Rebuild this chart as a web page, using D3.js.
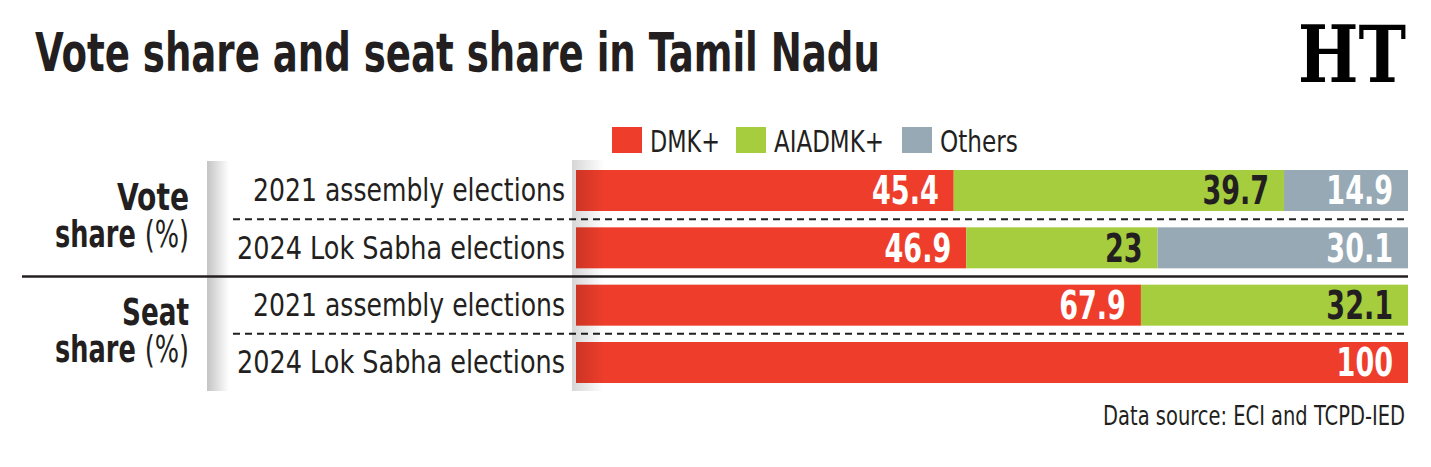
<!DOCTYPE html>
<html>
<head>
<meta charset="utf-8">
<script src="https://cdn.jsdelivr.net/npm/d3@7"></script>
<style>
  body { margin: 0; background: #fff; }
  svg { display: block; }
  text { font-family: "Liberation Sans Narrow", "DejaVu Sans Condensed", "Roboto", sans-serif; fill: #231f20; }
</style>
</head>
<body>
<div id="chart"></div>
<script>
// Vote share and seat share in Tamil Nadu - stacked 100% bars

const parties = ["DMK+", "AIADMK+", "Others"];
const rowLabels = ["2021 assembly elections", "2024 Lok Sabha elections", "2021 assembly elections", "2024 Lok Sabha elections"];
const groups = ["Vote", "Seat"];
const dmkShare = [45.4, 46.9, 67.9, 100];
const aiadmkShare = [39.7, 23, 32.1, 0];
const othersShare = [14.9, 30.1, 0, 0];

const colors = { "DMK+": "#ee3d2b", "AIADMK+": "#a6cd3e", "Others": "#97a9b5" };
const labelColors = { "DMK+": "#fff", "AIADMK+": "#231f20", "Others": "#fff" };

// build rows for the stack
const data = rowLabels.map((label, i) => ({
  id: i,
  label: label,
  "DMK+": dmkShare[i],
  "AIADMK+": aiadmkShare[i],
  "Others": othersShare[i]
}));

const width = 1431, height = 467;

const svg = d3.select("#chart")
  .append("svg")
  .attr("width", width)
  .attr("height", height);

// helper: squeeze horizontally around its anchor x
function squeeze(sel, ax, k) {
  sel.attr("transform", `translate(${ax},0) scale(${k},1) translate(${-ax},0)`);
  return sel;
}

// helper: squeeze a text to a target width
function fit(sel, w) {
  const ax = +sel.attr("x");
  return squeeze(sel, ax, w / sel.node().getComputedTextLength());
}

// title
fit(svg.append("text")
  .attr("x", 35)
  .attr("y", 71)
  .style("font-size", "53px")
  .style("font-weight", "bold")
  .text("Vote share and seat share in Tamil Nadu"), 845);

// HT logo
fit(svg.append("text")
  .attr("x", 1298)
  .attr("y", 82)
  .style("font-family", "'DejaVu Serif', serif")
  .style("font-size", "78px")
  .style("font-weight", "bold")
  .style("fill", "#000")
  .text("HT"), 108);

// scales
const x = d3.scaleLinear().domain([0, 100]).range([576, 1408]);
const y = d3.scaleBand()
  .domain(data.map(d => d.id))
  .range([170, 383])
  .paddingInner(0.285)
  .paddingOuter(0);

// legend
const legendX = [612, 736, 902];
const legendW = [70, 110, 78];
const legend = svg.append("g").attr("class", "legend");
parties.forEach((p, i) => {
  legend.append("rect")
    .attr("x", legendX[i])
    .attr("y", 127)
    .attr("width", 30)
    .attr("height", 26)
    .attr("fill", colors[p]);
  fit(legend.append("text")
    .attr("x", legendX[i] + 38)
    .attr("y", 152)
    .style("font-size", "30px")
    .text(p), legendW[i]);
});

// gradients
const defs = svg.append("defs");
const g1 = defs.append("linearGradient").attr("id", "strip");
g1.append("stop").attr("offset", "0%").attr("stop-color", "#c4c4c4");
g1.append("stop").attr("offset", "100%").attr("stop-color", "#fff");
const g2 = defs.append("linearGradient").attr("id", "barShade");
g2.append("stop").attr("offset", "0%").attr("stop-color", "#000").attr("stop-opacity", 0.16);
g2.append("stop").attr("offset", "100%").attr("stop-color", "#000").attr("stop-opacity", 0);

// shadow strip left of row labels
svg.append("rect")
  .attr("x", 207)
  .attr("y", 161)
  .attr("width", 22)
  .attr("height", 230)
  .attr("fill", "url(#strip)");

// separators
const dashYs = [0, 2].map(i => (y(i) + y.bandwidth() + y(i + 1)) / 2);
svg.selectAll(".dash")
  .data(dashYs)
  .enter()
  .append("line")
  .attr("class", "dash")
  .attr("x1", 233)
  .attr("x2", x(100))
  .attr("y1", d => d)
  .attr("y2", d => d)
  .attr("stroke", "#231f20")
  .attr("stroke-width", 2)
  .attr("stroke-dasharray", "7,5");

const solidY = (y(1) + y.bandwidth() + y(2)) / 2;
svg.append("line")
  .attr("x1", 22)
  .attr("x2", x(100))
  .attr("y1", solidY)
  .attr("y2", solidY)
  .attr("stroke", "#231f20")
  .attr("stroke-width", 2.5);

// stacked bars
const series = d3.stack().keys(parties)(data);
const segs = series.flatMap(s => s.map(d => ({ key: s.key, v0: d[0], v1: d[1], id: d.data.id })))
  .filter(d => d.v1 > d.v0);

svg.selectAll(".bar")
  .data(segs)
  .enter()
  .append("rect")
  .attr("class", "bar")
  .attr("x", d => x(d.v0))
  .attr("y", d => y(d.id))
  .attr("width", d => x(d.v1) - x(d.v0))
  .attr("height", y.bandwidth())
  .attr("fill", d => colors[d.key]);

svg.selectAll(".val")
  .data(segs)
  .enter()
  .append("text")
  .attr("class", "val")
  .attr("x", d => x(d.v1) - 15)
  .attr("y", d => y(d.id) + y.bandwidth() / 2 + 14)
  .attr("text-anchor", "end")
  .style("font-size", "39px")
  .style("font-weight", "bold")
  .style("fill", d => labelColors[d.key])
  .text(d => d3.format("~g")(+(d.v1 - d.v0).toFixed(1)))
  .each(function(d) { squeeze(d3.select(this), x(d.v1) - 15, 0.77); });

// shade at the left edge of the bars
svg.append("rect")
  .attr("x", 572)
  .attr("y", 160)
  .attr("width", 32)
  .attr("height", 231)
  .attr("fill", "url(#barShade)");

// row labels
const rowW = [312, 328, 312, 328];
data.forEach((d, i) => {
  fit(svg.append("text")
    .attr("x", 565)
    .attr("y", y(d.id) + y.bandwidth() / 2 + 11)
    .attr("text-anchor", "end")
    .style("font-size", "32px")
    .text(d.label), rowW[i]);
});

// group labels
const groupW = [72, 67];
groups.forEach((g, i) => {
  const top = y(i * 2);
  fit(svg.append("text")
    .attr("x", 189)
    .attr("y", top + 40)
    .attr("text-anchor", "end")
    .style("font-size", "37px")
    .style("font-weight", "bold")
    .text(g), groupW[i]);
  const t = svg.append("text")
    .attr("x", 189)
    .attr("y", top + 77)
    .attr("text-anchor", "end")
    .style("font-size", "37px");
  t.append("tspan").style("font-weight", "bold").text("share ");
  t.append("tspan").style("font-weight", "normal").text("(%)");
  fit(t, 134);
});

// source
fit(svg.append("text")
  .attr("x", 1405)
  .attr("y", 425)
  .attr("text-anchor", "end")
  .style("font-size", "27px")
  .text("Data source: ECI and TCPD-IED"), 302);
</script>
</body>
</html>
